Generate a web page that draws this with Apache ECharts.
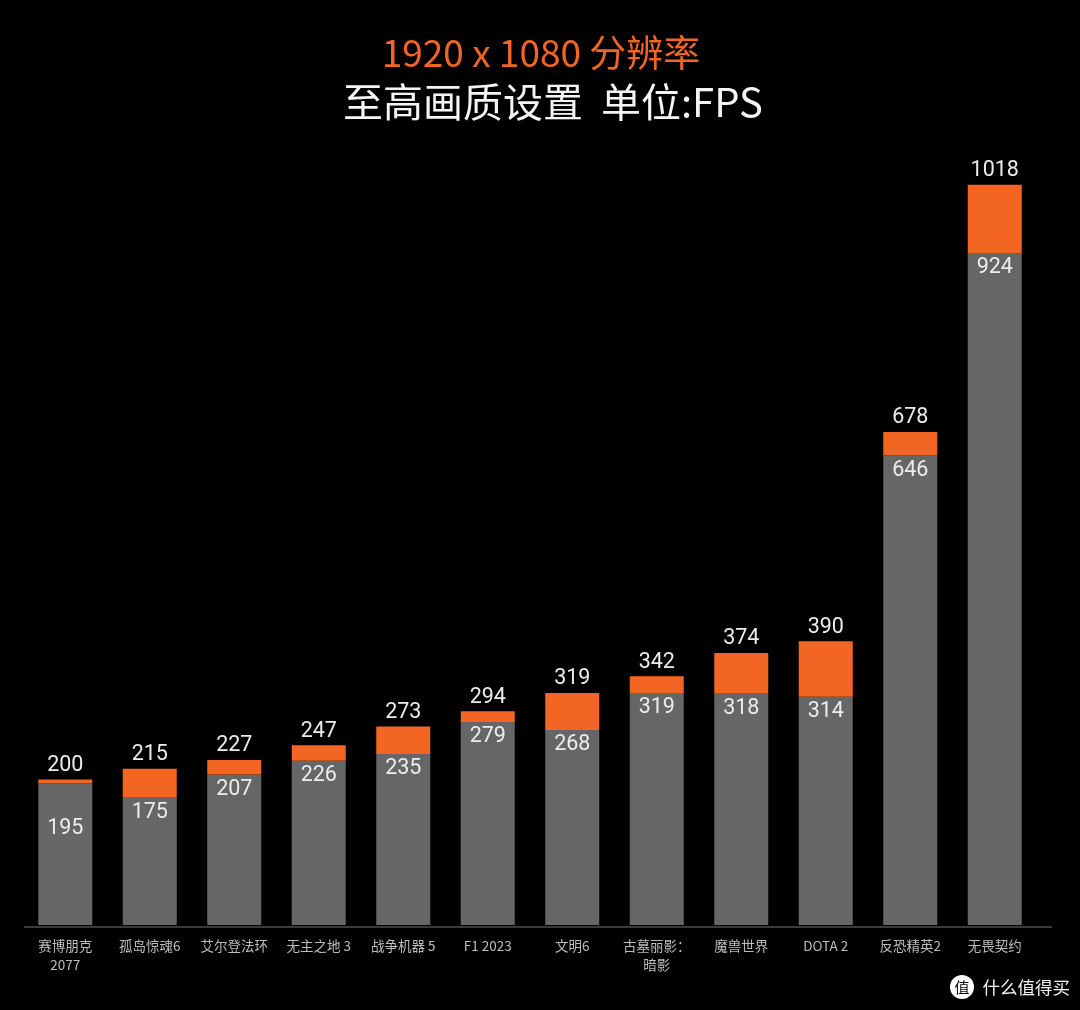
<!DOCTYPE html>
<html>
<head>
<meta charset="utf-8">
<style>
  html, body { margin: 0; padding: 0; background: #000; }
  #chart { width: 1080px; height: 1010px; }
</style>
<script src="https://cdn.jsdelivr.net/npm/echarts@6/dist/echarts.min.js"></script>
</head>
<body>
<div id="chart"></div>
<script>
// Frame rates per game at 1920x1080, highest quality settings
const games = ['赛博朋克\n2077', '孤岛惊魂6', '艾尔登法环', '无主之地 3', '战争机器 5', 'F1 2023',
               '文明6', '古墓丽影：\n暗影', '魔兽世界', 'DOTA 2', '反恐精英2', '无畏契约'];
const baseFps = [195, 175, 207, 226, 235, 279, 268, 319, 318, 314, 646, 924];
const peakFps = [200, 215, 227, 247, 273, 294, 319, 342, 374, 390, 678, 1018];

const ORANGE = '#f26522';
const GREY = '#666666';
const CJK = '"Noto Sans CJK SC", "Noto Sans", sans-serif';

// The orange cap is the gain on top of the grey base, so the two stack up to the peak value.
const gainFps = peakFps.map((peak, i) => peak - baseFps[i]);

// The thin cap on the first bar leaves its base label sitting further down the bar.
const baseData = baseFps.map((v, i) => (i === 0 ? { value: v, label: { distance: 34 } } : v));

const chart = echarts.init(document.getElementById('chart'), null, { renderer: 'canvas' });
chart.setOption({
  backgroundColor: '#000000',
  animation: false,
  title: [
    {
      text: '1920 x 1080 分辨率',
      left: 536, top: 29, textAlign: 'center',
      textStyle: { color: ORANGE, fontFamily: CJK, fontSize: 37, fontWeight: 'normal' }
    },
    {
      text: '至高画质设置  单位:FPS',
      left: 548, top: 77, textAlign: 'center',
      textStyle: { color: '#f4f4f4', fontFamily: CJK, fontSize: 40, fontWeight: 'normal' }
    }
  ],
  grid: { left: 23, right: 43, top: 125, bottom: 85, containLabel: false },
  xAxis: {
    type: 'category',
    data: games,
    axisTick: { show: false },
    axisLine: { show: false },
    axisLabel: {
      color: '#bdbdbd', fontFamily: CJK, fontSize: 13.5, lineHeight: 19,
      margin: 11, interval: 0
    }
  },
  yAxis: { type: 'value', min: 0, max: 1100, show: false, splitLine: { show: false } },
  series: [
    {
      name: '基准',
      type: 'bar',
      stack: 'fps',
      data: baseData,
      barWidth: 54,
      itemStyle: { color: GREY },
      label: {
        show: true, position: 'insideTop', distance: 4,
        color: '#ececec', fontFamily: 'Roboto, sans-serif', fontSize: 21.5
      }
    },
    {
      name: '增益',
      type: 'bar',
      stack: 'fps',
      data: gainFps,
      barWidth: 54,
      itemStyle: { color: ORANGE },
      label: {
        show: true, position: 'top', distance: 3,
        formatter: (p) => String(peakFps[p.dataIndex]),
        color: '#ececec', fontFamily: 'Roboto, sans-serif', fontSize: 21.5
      }
    }
  ],
  graphic: [
    // Baseline rule runs a little past the last category band
    { type: 'line', shape: { x1: 24, y1: 927, x2: 1052, y2: 927 }, style: { stroke: '#3a3a3a', lineWidth: 2 } },
    { type: 'circle', shape: { cx: 962, cy: 987, r: 12 }, style: { fill: '#ffffff' } },
    {
      type: 'text', x: 962, y: 987,
      style: { text: '值', fill: '#000000', font: '15px ' + CJK, textAlign: 'center', textVerticalAlign: 'middle' }
    },
    {
      type: 'text', x: 1070, y: 987,
      style: { text: '什么值得买', fill: '#f2f2f2', font: '17.5px ' + CJK, textAlign: 'right', textVerticalAlign: 'middle' }
    }
  ]
});
</script>
</body>
</html>
